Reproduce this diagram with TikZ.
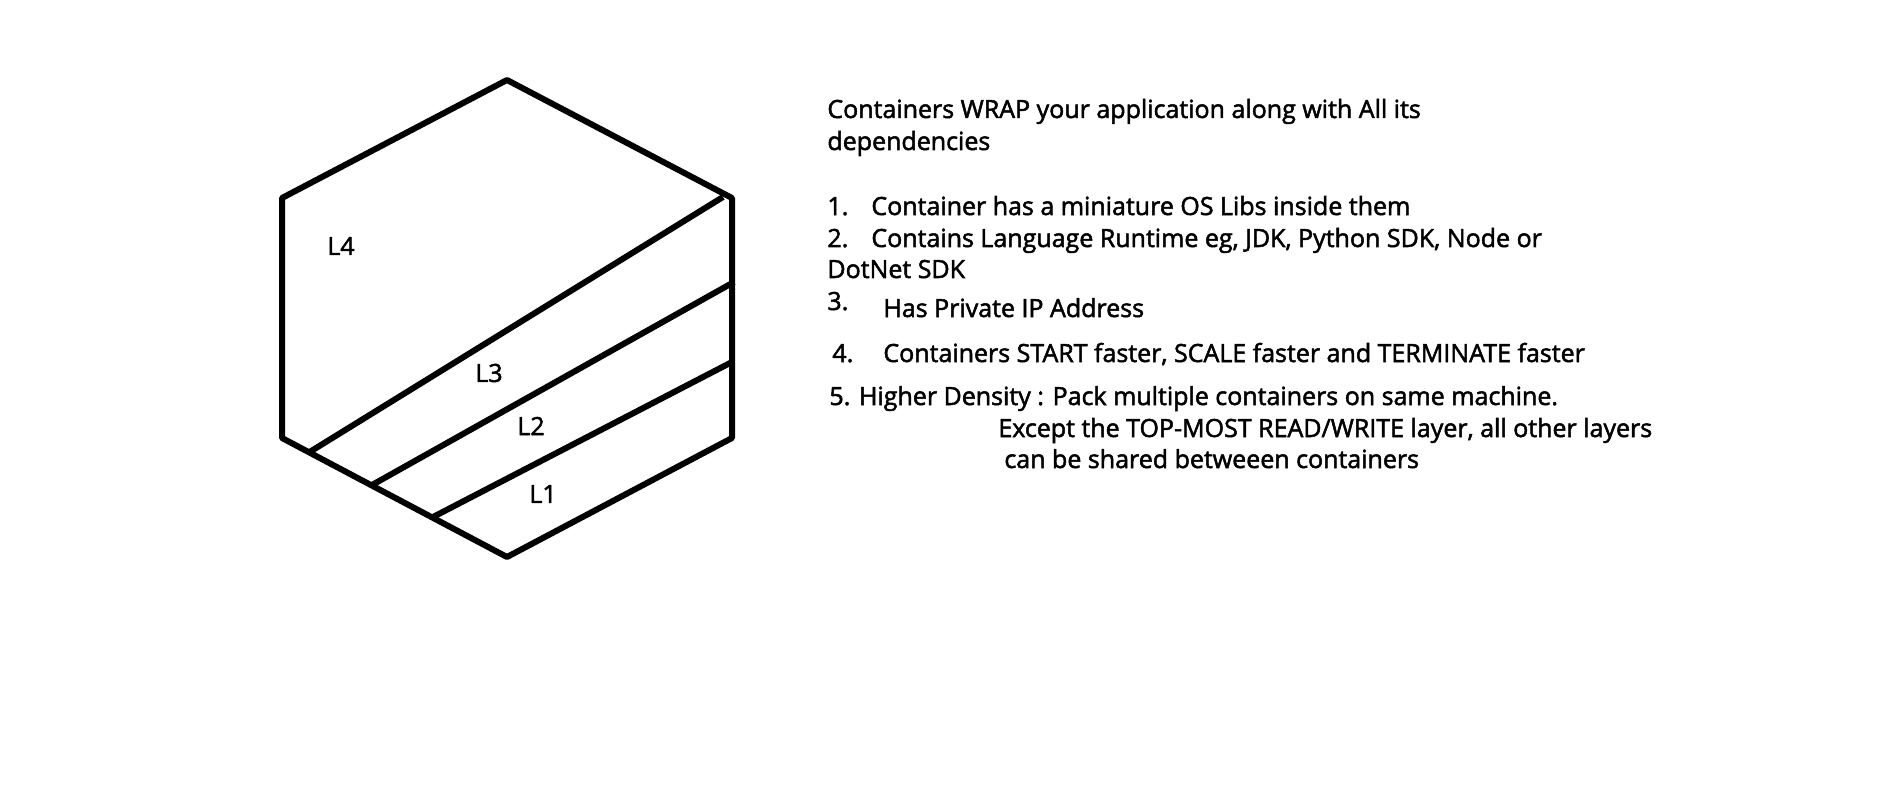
\documentclass[tikz,border=0pt]{standalone}
\usepackage{fontspec}
\setmainfont{Open Sans}
\newfontfamily\labelfont{Open Sans}[FakeBold=2]

\begin{document}
\begin{tikzpicture}[x=0.5pt, y=-0.5pt,
    every node/.style={inner sep=0pt, font=\labelfont\fontsize{12.5}{14}\selectfont},
    txt/.style={anchor=base west},
    edge/.style={line width=3pt, line join=round}]
        \useasboundingbox (0,0) rectangle (1892,797);
        \coordinate (T) at (507,80);
        \coordinate (UR) at (732,198);
        \coordinate (LR) at (732,438);
        \coordinate (B) at (507,557);
        \coordinate (LL) at (282,438);
        \coordinate (UL) at (282,198);
        \coordinate (a3) at (308,453);
        \coordinate (b3) at (723,197);
        \coordinate (a2) at (372,485);
        \coordinate (b2) at (734,282);
        \coordinate (a1) at (433,517);
        \coordinate (b1) at (732,362);
        \draw[edge] (T) -- (UR) -- (LR) -- (B) -- (LL) -- (UL) -- cycle;
        \draw[edge] (a3) -- (b3);
        \draw[edge] (a2) -- (b2);
        \draw[edge] (a1) -- (b1);
        \node (L4) at (341,246) {L4};
        \node (L3) at (489,373) {L3};
        \node (L2) at (531,426) {L2};
        \node (L1) at (543,494) {L1};
        \node[txt] (wrap) at (827,118) {Containers WRAP your application along with All its};
        \node[txt] (deps) at (827,150) {dependencies};
        \node[txt] (n1) at (827,215) {1.};
        \node[txt] (t1) at (871,215) {Container has a miniature OS Libs inside them};
        \node[txt] (n2) at (827,247) {2.};
        \node[txt] (t2) at (871,247) {Contains Language Runtime eg, JDK, Python SDK, Node or};
        \node[txt] (t2b) at (827,278) {DotNet SDK};
        \node[txt] (n3) at (827,310) {3.};
        \node[txt] (t3) at (883,317) {Has Private IP Address};
        \node[txt] (n4) at (832,362) {4.};
        \node[txt] (t4) at (883,362) {Containers START faster, SCALE faster and TERMINATE faster};
        \node[txt] (t5) at (829,405) {5. Higher Density : Pack multiple containers on same machine.};
        \node[txt] (t5b) at (998,437) {Except the TOP-MOST READ/WRITE layer, all other layers};
        \node[txt] (t5c) at (1004,468) {can be shared betweeen containers};
    \end{tikzpicture}
\end{document}
